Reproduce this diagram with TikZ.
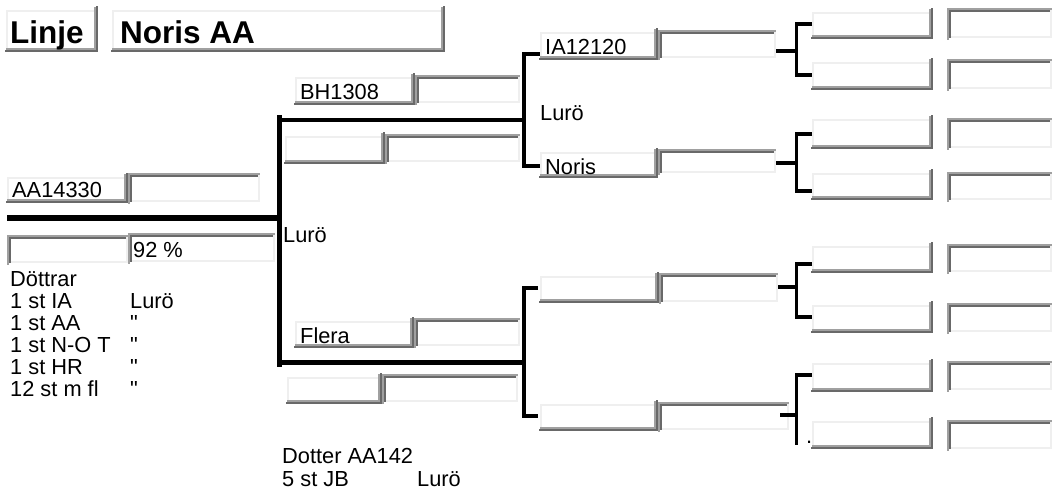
\documentclass[tikz,border=0pt]{standalone}
\usepackage{fontspec}
\setmainfont{Liberation Sans}
\newfontfamily\plainfont{Liberation Sans}
\definecolor{clt}{HTML}{EFEFEF}
\definecolor{cgr}{HTML}{A0A0A0}
\definecolor{cdk}{HTML}{696969}
\tikzset{
  boxnode/.style={inner sep=0pt, outer sep=0pt, draw=none},
  txt/.style={anchor=base west, inner sep=0pt, font=\plainfont\fontsize{21.8}{24}\selectfont},
  ttl/.style={anchor=base west, inner sep=0pt, font=\plainfont\bfseries\fontsize{31.5}{36}\selectfont},
  thick1/.style={line width=5.5pt, black, line join=miter},
  thick2/.style={line width=4.5pt, black, line join=miter},
  thick3/.style={line width=3.5pt, black, line join=miter},
}
% raised field: name, x1, y1, x2, y2
\newcommand\rais[5]{%
  \pgfmathsetmacro\bxw{#4-#2}\pgfmathsetmacro\bxh{#5-#3}%
  \node[boxnode, minimum width=\bxw pt, minimum height=\bxh pt] (#1) at ({(#2+#4)/2},{(#3+#5)/2}) {};
  \fill[clt] (#2,#3) rectangle (#2+2,#5);
  \fill[clt] (#2,#3) rectangle (#4,#3+2);
  \fill[cgr] (#2,#5-4) rectangle (#4-2,#5-2);
  \fill[cgr] (#4-4,#3-3) rectangle (#4-2,#5-2);
  \fill[cdk] (#2-1,#5-2) rectangle (#4,#5);
  \fill[cdk] (#4-2,#3-4) rectangle (#4,#5);
}
% sunken field: name, x1, y1, x2, y2
\newcommand\sunk[5]{%
  \pgfmathsetmacro\bxw{#4-#2}\pgfmathsetmacro\bxh{#5-#3}%
  \node[boxnode, minimum width=\bxw pt, minimum height=\bxh pt] (#1) at ({(#2+#4)/2},{(#3+#5)/2}) {};
  \fill[clt] (#2,#5-2) rectangle (#4,#5);
  \fill[clt] (#4-2,#3) rectangle (#4,#5);
  \fill[cgr] (#2,#3) rectangle (#4,#3+2);
  \fill[cgr] (#2,#3) rectangle (#2+2,#5+2);
  \fill[cdk] (#2+2,#3+2) rectangle (#4-2,#3+4);
  \fill[cdk] (#2+2,#3+2) rectangle (#2+4,#5);
}
\begin{document}
\begin{tikzpicture}[x=1pt,y=-1pt]
\useasboundingbox (0,0) rectangle (1054,492);
% ---------- title ----------
\rais{linje}{6}{10}{98}{52}
\rais{line}{112}{10}{445}{52}
\node[ttl] (tlinje) at (10,44) {Linje};
\node[ttl] (tnoris) at (120,44) {Noris AA};
% ---------- column 1 ----------
\rais{a1}{7}{177}{128}{203}
\sunk{a2}{128}{173}{260}{202}
\sunk{a3}{7}{235}{128}{263}
\sunk{a4}{128}{233}{275}{262}
\node[txt] (taa) at (12,197) {AA14330};
\node[txt] (tpct) at (133,257) {92 \%};
% ---------- column 2 ----------
\rais{b1}{295}{77}{415}{105}
\sunk{b2}{415}{75}{520}{103}
\rais{b3}{285}{136}{385}{164}
\sunk{b4}{385}{134}{520}{162}
\rais{b5}{295}{321}{414}{348}
\sunk{b6}{414}{318}{520}{346}
\rais{b7}{287}{377}{382}{404}
\sunk{b8}{382}{374}{518}{402}
\node[txt] (tbh) at (300,100) {BH1308};
\node[txt] (tfl) at (300,343) {Flera};
% ---------- column 3 ----------
\rais{c1}{540}{32}{658}{60}
\sunk{c2}{658}{30}{776}{58}
\rais{c3}{540}{152}{658}{178}
\sunk{c4}{658}{149}{776}{173}
\rais{c5}{540}{276}{659}{303}
\sunk{c6}{659}{273}{778}{302}
\rais{c7}{540}{404}{658}{431}
\sunk{c8}{658}{402}{789}{430}
\node[txt] (tia) at (545,55) {IA12120};
\node[txt] (tno) at (545,174) {Noris};
\node[txt] (tlu2) at (540,121) {Lurö};
% ---------- columns 4 and 5 ----------
\rais{d1}{812}{12}{933}{39}   \sunk{e1}{947}{8}{1052}{38}
\rais{d2}{812}{62}{933}{90}   \sunk{e2}{947}{59}{1052}{89}
\rais{d3}{812}{119}{933}{149} \sunk{e3}{947}{118}{1052}{148}
\rais{d4}{812}{173}{933}{200} \sunk{e4}{947}{172}{1052}{200}
\rais{d5}{812}{246}{933}{273} \sunk{e5}{947}{244}{1052}{272}
\rais{d6}{812}{305}{933}{333} \sunk{e6}{947}{303}{1052}{332}
\rais{d7}{812}{363}{933}{392} \sunk{e7}{947}{361}{1052}{390}
\rais{d8}{812}{421}{933}{449} \sunk{e8}{947}{420}{1052}{449}
% ---------- connectors ----------
\coordinate (m0) at (7,218);
\coordinate (m1) at (282,218);
\coordinate (v1t) at (279.5,118);
\coordinate (v1b) at (279.5,364.5);
\coordinate (u0) at (277,120);
\coordinate (u1) at (526,120);
\coordinate (l0) at (277,362);
\coordinate (l1) at (526,362);
\draw[thick1] (m0) -- (m1);
\draw[line width=5pt, line cap=rect] (v1t) -- (v1b);
\draw[thick2] (u0) -- (u1);
\draw[line width=5pt] (l0) -- (l1);
% level 2
\coordinate (p1) at (540,54);   \coordinate (p2) at (540,166);
\coordinate (q1) at (538,288);  \coordinate (q2) at (538,416);
\draw[thick2] (p1) -- (524,54) -- (524,166) -- (p2);
\draw[thick2] (q1) -- (524,288) -- (524,416) -- (q2);
% level 3
\coordinate (ra) at (776,51);  \coordinate (rb) at (776,163);
\coordinate (rc) at (778,287); \coordinate (rd) at (780,415);
\coordinate (a1t) at (812,24);  \coordinate (a1b) at (812,75);
\coordinate (b1t) at (812,134); \coordinate (b1b) at (812,191);
\coordinate (c1t) at (812,264); \coordinate (c1b) at (812,317);
\coordinate (d1t) at (812,375); \coordinate (d1b) at (796.5,445);
\draw[thick3] (ra) -- (796.5,51);
\draw[thick3] (a1t) -- (796.5,24) -- (796.5,75) -- (a1b);
\draw[thick3] (rb) -- (796.5,163);
\draw[thick3] (b1t) -- (796.5,134) -- (796.5,191) -- (b1b);
\draw[thick3] (rc) -- (796.5,287);
\draw[thick3] (c1t) -- (796.5,264) -- (796.5,317) -- (c1b);
\draw[thick3] (rd) -- (796.5,415);
\draw[thick3] (d1t) -- (796.5,375) -- (d1b);
\node[txt] (tdot) at (806,443) {.};
% ---------- texts ----------
\node[txt] (tlu1) at (283,242) {Lurö};
\node[txt] (td0) at (10,286) {Döttrar};
\node[txt] (td1) at (10,308) {1 st IA};
\node[txt] (td2) at (10,330) {1 st AA};
\node[txt] (td3) at (10,352) {1 st N-O T};
\node[txt] (td4) at (10,374) {1 st HR};
\node[txt] (td5) at (10,396) {12 st m fl};
\node[txt] (tq1) at (130,308) {Lurö};
\node[txt] (tq2) at (130,330) {"};
\node[txt] (tq3) at (130,352) {"};
\node[txt] (tq4) at (130,374) {"};
\node[txt] (tq5) at (130,396) {"};
\node[txt] (tdot1) at (282,463) {Dotter AA142};
\node[txt] (tdot2) at (282,486) {5 st JB};
\node[txt] (tdot3) at (417,486) {Lurö};
\end{tikzpicture}
\end{document}
